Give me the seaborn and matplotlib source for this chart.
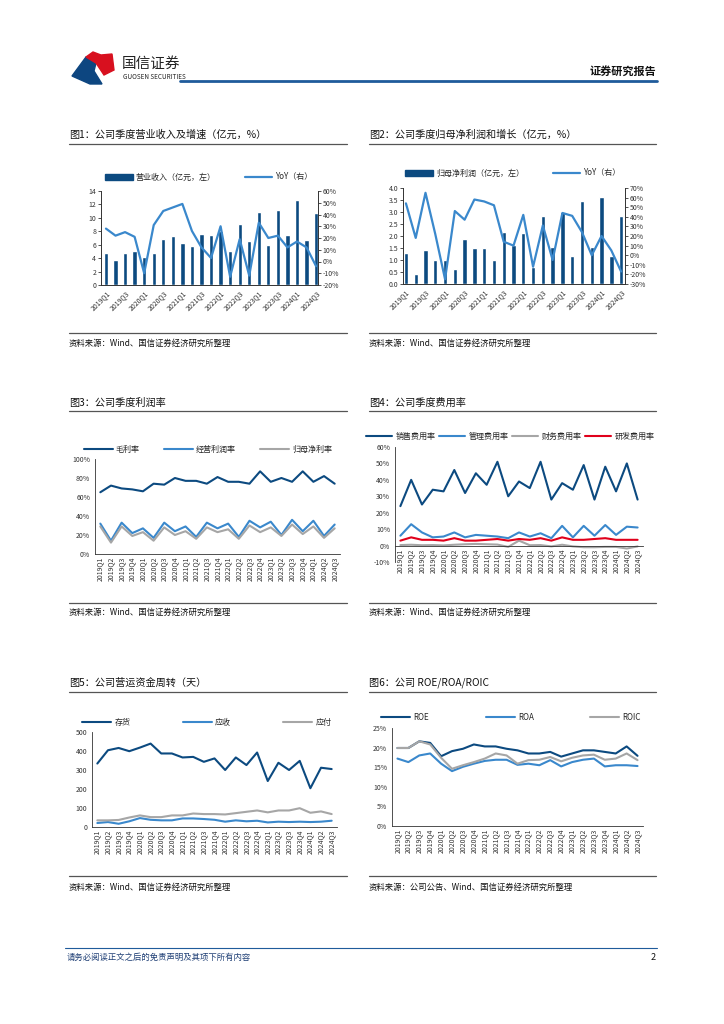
import numpy as np
import pandas as pd
import seaborn as sns
import matplotlib
matplotlib.use("Agg")
from matplotlib import pyplot as plt
from matplotlib.patches import Patch, Polygon
from matplotlib.lines import Line2D

# ---- data ----
quarters = ["2019Q1", "2019Q2", "2019Q3", "2019Q4", "2020Q1", "2020Q2", "2020Q3", "2020Q4",
            "2021Q1", "2021Q2", "2021Q3", "2021Q4", "2022Q1", "2022Q2", "2022Q3", "2022Q4",
            "2023Q1", "2023Q2", "2023Q3", "2023Q4", "2024Q1", "2024Q2", "2024Q3"]

revenue = [4.7, 3.7, 4.8, 5.0, 4.2, 4.7, 6.8, 7.3, 6.2, 5.8, 7.6, 7.5,
           8.1, 5.0, 9.1, 6.5, 10.9, 6.0, 11.2, 7.4, 12.7, 6.7, 10.7]
revenue_yoy = [28, 22, 25, 21, -10, 31, 43, 46, 49, 26, 12, 3,
               30, -13, 19, -12, 33, 20, 22, 12, 17, 12, -4]

net_profit = [1.30, 0.43, 1.40, 0.98, 0.98, 0.64, 1.89, 1.51, 1.51, 0.98, 2.17, 1.62,
              2.13, 0.72, 2.82, 1.54, 3.00, 1.17, 3.45, 1.54, 3.62, 1.17, 2.83]
net_profit_yoy = [54, 18, 65, 22, -25, 46, 37, 58, 56, 52, 14, 10,
                  42, -12, 31, -5, 44, 41, 24, 0, 20, 5, -17]

gross_margin = [65, 72, 69, 68, 66, 74, 73, 80, 77, 77, 74, 81,
                76, 76, 74, 87, 76, 80, 76, 87, 76, 82, 74]
op_margin = [32, 14, 33, 22, 27, 17, 33, 24, 29, 18, 33, 27,
             32, 18, 35, 28, 34, 20, 36, 24, 35, 19, 31]
net_margin = [29, 12, 29, 19, 23, 14, 28, 20, 24, 16, 28, 23,
              26, 16, 30, 23, 28, 19, 31, 21, 29, 17, 27]

sales_exp = [24, 40, 25, 34, 33, 46, 32, 44, 37, 51, 30, 39,
             35, 51, 28, 38, 34, 49, 28, 48, 33, 50, 28]
admin_exp = [6, 13, 8, 5, 5.5, 8, 5, 6.5, 6, 5.5, 4.5, 8,
             5.5, 7.5, 4.5, 12, 5, 12, 6, 12.5, 6.5, 11.5, 11]
fin_exp = [0.3, 0.5, 0.2, 0.3, 0.1, 0.5, 0.8, 1.0, 0.8, 0.6, -0.8, 3.0,
           0.2, 0.3, -0.5, 0.5, -0.5, -1.0, -1.0, -0.8, -0.8, -1.8, -0.5]
rd_exp = [3, 5, 3.5, 3.5, 3, 4.5, 3, 3, 3.5, 4, 3, 4,
          3.5, 4.5, 3, 5, 3.5, 3.5, 4, 4.5, 3.5, 3.5, 3.5]

inventory_days = [334, 404, 416, 399, 418, 439, 387, 387, 366, 369, 343, 361,
                  300, 366, 326, 392, 242, 338, 300, 348, 204, 312, 305]
receivable_days = [21, 26, 17, 30, 47, 38, 35, 35, 45, 45, 42, 38,
                   28, 35, 30, 33, 24, 28, 26, 28, 26, 28, 33]
payable_days = [35, 35, 37, 50, 61, 52, 52, 61, 61, 71, 68, 68,
                66, 73, 80, 87, 77, 87, 87, 99, 75, 82, 68]

roe = [19.9, 19.9, 21.6, 21.2, 17.8, 19.1, 19.7, 20.8, 20.3, 20.3, 19.7, 19.3,
       18.5, 18.5, 18.9, 17.7, 18.5, 19.3, 19.3, 18.9, 18.5, 20.3, 17.9]
roa = [17.2, 16.3, 18.0, 18.5, 15.9, 14.0, 15.1, 15.9, 16.6, 16.9, 16.9, 15.6,
       15.9, 15.5, 16.8, 15.2, 16.3, 16.9, 17.2, 15.2, 15.5, 15.5, 15.3]
roic = [19.9, 19.9, 21.6, 20.8, 17.4, 14.6, 15.5, 16.3, 17.2, 18.5, 18.0, 15.9,
        16.8, 16.9, 17.6, 16.5, 17.4, 18.0, 18.2, 16.9, 17.2, 18.5, 16.8]

NAVY = "#0c4a80"
BLUE = "#3a88cc"
GREY = "#a6a6a6"
RED = "#e0001b"
DARK = "#333333"

sns.set_style("white")
plt.rcParams["font.family"] = ["Noto Sans CJK SC", "DejaVu Sans"]
plt.rcParams["axes.unicode_minus"] = False

W, H = 724, 1024
fig = plt.figure(figsize=(7.24, 10.24), dpi=100)
idx = list(range(len(quarters)))


def box(x0, y0, x1, y1):
    return fig.add_axes([x0 / W, 1 - y1 / H, (x1 - x0) / W, (y1 - y0) / H])


def ftext(x, y, s, **kw):
    fig.text(x / W, 1 - y / H, s, **kw)


def fline(x0, x1, y, color=DARK, lw=0.8):
    fig.add_artist(Line2D([x0 / W, x1 / W], [1 - y / H, 1 - y / H],
                          color=color, lw=lw, transform=fig.transFigure))


def style(ax):
    for s in ax.spines.values():
        s.set_color(DARK)
        s.set_linewidth(0.6)
    ax.tick_params(labelsize=5, length=2, width=0.6, color=DARK, pad=1.5, colors=DARK)
    ax.set_xlabel("")
    ax.set_ylabel("")


def legend(handles, labels, cx, cy, hl=3.6, cs=3.0):
    fig.legend(handles, labels, loc="center", bbox_to_anchor=(cx / W, 1 - cy / H),
               ncol=len(labels), frameon=False, fontsize=5.8, handlelength=hl,
               handleheight=0.8, columnspacing=cs, handletextpad=0.4,
               borderaxespad=0, borderpad=0)


def panel_text(x0, x1, ytitle, yline, ysrc_line, ysrc, title, source):
    ftext(x0, ytitle, title, fontsize=7.3, va="center", color="#111111")
    fline(x0, x1, yline, color="#555555", lw=0.9)
    fline(x0, x1, ysrc_line, color="#555555", lw=0.9)
    ftext(x0, ysrc, source, fontsize=6, va="center", color="#111111")


def bar_panel(box_px, xlim, vals, yoy, ylim_l, yt_l, fmt_l, ylim_r, yt_r):
    ax = box(*box_px)
    sns.barplot(x=idx, y=vals, color=NAVY, width=0.45, ax=ax, saturation=1)
    ax2 = ax.twinx()
    sns.lineplot(x=idx, y=yoy, color=BLUE, lw=1.6, ax=ax2)
    ax.set_xlim(*xlim)
    ax.set_ylim(*ylim_l)
    ax.set_yticks(yt_l)
    ax.set_yticklabels([fmt_l.format(v) for v in yt_l])
    ax2.set_ylim(*ylim_r)
    ax2.set_yticks(yt_r)
    ax2.set_yticklabels([f"{v}%" for v in yt_r])
    ax.set_xticks(idx[::2])
    ax.set_xticklabels(quarters[::2], rotation=45, ha="right", rotation_mode="anchor")
    for a in (ax, ax2):
        style(a)
        a.spines["top"].set_visible(False)
    ax.tick_params(axis="x", length=0, pad=3)
    return ax


def line_panel(box_px, series, colors, ylim, yticks, fmt, zero_axis=False):
    ax = box(*box_px)
    names = list(series.keys())
    df = pd.DataFrame({
        "i": idx * len(names),
        "v": sum((list(series[n]) for n in names), []),
        "s": sum(([n] * len(quarters) for n in names), []),
    })
    sns.lineplot(data=df, x="i", y="v", hue="s", hue_order=names,
                 palette=colors, lw=1.5, ax=ax, legend=False, sort=False)
    # spine position first: moving it resets the tick settings
    if zero_axis:
        ax.spines["bottom"].set_position(("data", 0))
    ax.set_xlim(-0.5, len(quarters) - 0.5)
    ax.set_ylim(*ylim)
    ax.set_yticks(yticks)
    ax.set_yticklabels([fmt.format(v) for v in yticks])
    ax.set_xticks(idx)
    ax.set_xticklabels(quarters, rotation=90)
    ax.set_xticks(np.arange(-0.5, len(quarters), 1.0), minor=True)
    style(ax)
    ax.tick_params(axis="x", which="major", length=0, pad=2)
    ax.tick_params(axis="x", which="minor", length=2, width=0.6, color=DARK)
    ax.spines["top"].set_visible(False)
    ax.spines["right"].set_visible(False)
    return ax


# ---- chart 1 ----
bar_panel((101, 191, 318, 285), (-0.52, 22.2), revenue, revenue_yoy,
          (0, 14), list(range(0, 15, 2)), "{:d}", (-20, 60), list(range(-20, 61, 10)))
legend([Patch(color=NAVY), Line2D([], [], color=BLUE, lw=1.6)],
       ["营业收入（亿元，左）", "YoY（右）"], 209, 177, hl=3.4, cs=3.6)
panel_text(69, 347, 135, 144, 333, 343, "图1：公司季度营业收入及增速（亿元，%）",
           "资料来源：Wind、国信证券经济研究所整理")

# ---- chart 2 ----
bar_panel((403, 188, 625, 284), (-0.3, 22.4), net_profit, net_profit_yoy,
          (0, 4.0), [0, 0.5, 1.0, 1.5, 2.0, 2.5, 3.0, 3.5, 4.0], "{:.1f}",
          (-30, 70), list(range(-30, 71, 10)))
legend([Patch(color=NAVY), Line2D([], [], color=BLUE, lw=1.6)],
       ["归母净利润（亿元，左）", "YoY（右）"], 513, 173, hl=3.4, cs=3.6)
panel_text(369, 656, 135, 144, 333, 343, "图2：公司季度归母净利润和增长（亿元，%）",
           "资料来源：Wind、国信证券经济研究所整理")

# ---- chart 3 ----
line_panel((95, 459, 340, 554),
           {"毛利率": gross_margin, "经营利润率": op_margin, "归母净利率": net_margin},
           [NAVY, BLUE, GREY], (0, 100), list(range(0, 101, 20)), "{}%")
legend([Line2D([], [], color=c, lw=1.5) for c in (NAVY, BLUE, GREY)],
       ["毛利率", "经营利润率", "归母净利率"], 208, 449, hl=3.6, cs=3.0)
panel_text(69, 347, 403, 411, 603, 612, "图3：公司季度利润率",
           "资料来源：Wind、国信证券经济研究所整理")

# ---- chart 4 ----
line_panel((395, 447, 643, 562),
           {"销售费用率": sales_exp, "管理费用率": admin_exp,
            "财务费用率": fin_exp, "研发费用率": rd_exp},
           [NAVY, BLUE, GREY, RED], (-10, 60), list(range(-10, 61, 10)), "{}%",
           zero_axis=True)
legend([Line2D([], [], color=c, lw=1.5) for c in (NAVY, BLUE, GREY, RED)],
       ["销售费用率", "管理费用率", "财务费用率", "研发费用率"], 510, 436, hl=3.3, cs=0.4)
panel_text(369, 656, 403, 411, 603, 612, "图4：公司季度费用率",
           "资料来源：Wind、国信证券经济研究所整理")

# ---- chart 5 ----
line_panel((92, 732, 337, 827),
           {"存货": inventory_days, "应收": receivable_days, "应付": payable_days},
           [NAVY, BLUE, GREY], (0, 500), list(range(0, 501, 100)), "{}")
legend([Line2D([], [], color=c, lw=1.5) for c in (NAVY, BLUE, GREY)],
       ["存货", "应收", "应付"], 207, 722, hl=3.6, cs=6.5)
panel_text(69, 347, 683, 692, 876, 887, "图5：公司营运资金周转（天）",
           "资料来源：Wind、国信证券经济研究所整理")

# ---- chart 6 ----
line_panel((392, 728, 643, 826),
           {"ROE": roe, "ROA": roa, "ROIC": roic},
           [NAVY, BLUE, GREY], (0, 25), list(range(0, 26, 5)), "{}%")
legend([Line2D([], [], color=c, lw=1.5) for c in (NAVY, BLUE, GREY)],
       ["ROE", "ROA", "ROIC"], 511, 717, hl=3.6, cs=7.0)
panel_text(369, 656, 683, 692, 876, 887, "图6：公司 ROE/ROA/ROIC",
           "资料来源：公司公告、Wind、国信证券经济研究所整理")

# ---- page header / footer ----
logo_blue = [(72, 76), (86, 57), (96, 63), (94, 71), (102, 84), (90, 84)]
logo_red = [(86, 57), (93, 52), (101, 55), (112, 54), (114, 70), (104, 75), (96, 63)]
for pts, c in ((logo_blue, "#0d4680"), (logo_red, "#d8101f")):
    fig.add_artist(Polygon([(x / W, 1 - y / H) for x, y in pts], closed=True,
                           color=c, transform=fig.transFigure))
ftext(122, 64, "国信证券", fontsize=10.5, va="center", color="#222222")
ftext(123, 77, "GUOSEN SECURITIES", fontsize=4.6, va="center", color="#222222")
ftext(656, 71, "证券研究报告", fontsize=8, va="center", ha="right",
      color="#111111", fontweight="bold")
fline(180, 657, 81, color="#1f5b9b", lw=2.0)

fline(65, 657, 948, color="#1f5b9b", lw=0.8)
ftext(67, 957, "请务必阅读正文之后的免责声明及其项下所有内容", fontsize=6, va="center",
      color="#1f3f75", style="italic")
ftext(656, 957, "2", fontsize=6.5, va="center", ha="right", color="#111111")

fig.savefig("out.png", dpi=100)
